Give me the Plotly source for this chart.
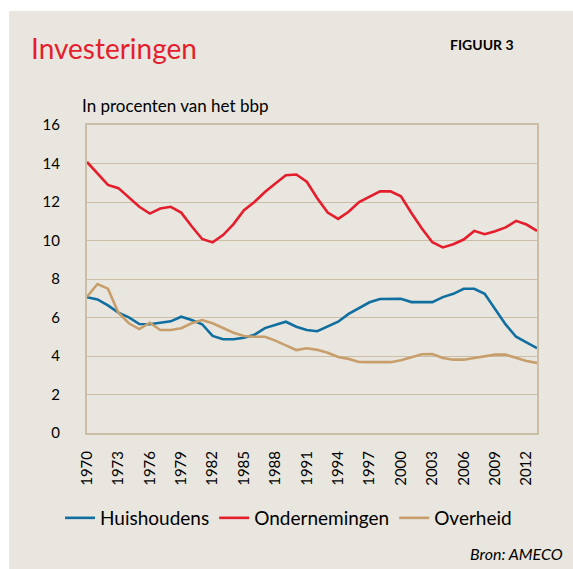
import plotly.graph_objects as go

years = [str(y) for y in range(1970, 2014)]

huishoudens = [7.05, 6.94, 6.63, 6.25, 6.01, 5.66, 5.65, 5.71, 5.80, 6.04,
               5.87, 5.65, 5.04, 4.87, 4.87, 4.95, 5.10, 5.45, 5.63, 5.78,
               5.52, 5.35, 5.29, 5.54, 5.78, 6.19, 6.51, 6.79, 6.96, 6.97,
               6.97, 6.80, 6.80, 6.80, 7.06, 7.23, 7.49, 7.49, 7.23, 6.46,
               5.64, 5.00, 4.70, 4.41]

ondernemingen = [14.08, 13.46, 12.89, 12.72, 12.23, 11.75, 11.40, 11.66, 11.75, 11.45,
                 10.74, 10.08, 9.90, 10.28, 10.85, 11.57, 12.00, 12.52, 12.96, 13.39,
                 13.43, 13.05, 12.20, 11.45, 11.12, 11.49, 12.00, 12.29, 12.55, 12.56,
                 12.30, 11.43, 10.62, 9.91, 9.64, 9.81, 10.05, 10.50, 10.33, 10.48,
                 10.68, 11.02, 10.83, 10.50]

overheid = [7.08, 7.74, 7.50, 6.25, 5.70, 5.40, 5.73, 5.35, 5.35, 5.44,
            5.70, 5.87, 5.70, 5.44, 5.21, 5.04, 5.00, 5.00, 4.80, 4.55,
            4.31, 4.40, 4.32, 4.17, 3.95, 3.85, 3.69, 3.68, 3.68, 3.68,
            3.78, 3.95, 4.09, 4.10, 3.90, 3.81, 3.81, 3.90, 3.98, 4.07,
            4.07, 3.90, 3.74, 3.64]

tick_years = [str(y) for y in range(1970, 2013, 3)]
y_ticks = [0, 2, 4, 6, 8, 10, 12, 14, 16]

BG = "rgb(232,230,222)"
GRID = "rgb(204,190,165)"
FONT = "Lato"

fig = go.Figure()
fig.add_trace(go.Scatter(x=years, y=huishoudens, mode="lines", name="Huishoudens",
                         line=dict(color="rgb(16,110,160)", width=2.6)))
fig.add_trace(go.Scatter(x=years, y=ondernemingen, mode="lines", name="Ondernemingen",
                         line=dict(color="rgb(228,30,45)", width=2.6)))
fig.add_trace(go.Scatter(x=years, y=overheid, mode="lines", name="Overheid",
                         line=dict(color="rgb(200,158,108)", width=2.6)))

# Beige panel (white strip top and left)
fig.add_shape(type="rect", xref="paper", yref="paper",
              x0=(9 - 87) / 450, x1=(600 - 87) / 450,
              y0=(433 - 600) / 308, y1=(433 - 11) / 308,
              fillcolor=BG, line=dict(width=0), layer="below")

fig.add_annotation(text="Investeringen", xref="paper", yref="paper",
                   x=(29 - 87) / 450, y=(433 - 48) / 308, xanchor="left", yanchor="middle",
                   showarrow=False, font=dict(family=FONT, size=28, color="rgb(228,30,45)"))
fig.add_annotation(text="<b>FIGUUR 3</b>", xref="paper", yref="paper",
                   x=(516 - 87) / 450, y=(433 - 45) / 308, xanchor="right", yanchor="middle",
                   showarrow=False, font=dict(family=FONT, size=14, color="black"))
fig.add_annotation(text="In procenten van het bbp", xref="paper", yref="paper",
                   x=(80 - 87) / 450, y=(433 - 106) / 308, xanchor="left", yanchor="middle",
                   showarrow=False, font=dict(family=FONT, size=17, color="black"))
fig.add_annotation(text="<i>Bron: AMECO</i>", xref="paper", yref="paper",
                   x=(565 - 87) / 450, y=(433 - 553) / 308, xanchor="right", yanchor="middle",
                   showarrow=False, font=dict(family=FONT, size=16, color="black"))

fig.update_layout(
    width=573, height=569,
    margin=dict(l=87, r=36, t=125, b=136),
    paper_bgcolor="white",
    plot_bgcolor="rgba(0,0,0,0)",
    font=dict(family=FONT, color="black"),
    showlegend=True,
    legend=dict(orientation="h", x=(60 - 87) / 450, y=(433 - 518) / 308,
                xanchor="left", yanchor="middle", bgcolor="rgba(0,0,0,0)",
                font=dict(family=FONT, size=19), itemwidth=30, tracegroupgap=0),
)
fig.update_xaxes(type="category", tickmode="array", tickvals=tick_years, ticktext=tick_years,
                 tickangle=-90, tickfont=dict(family=FONT, size=15),
                 showgrid=False, showline=True, mirror=True, linecolor=GRID, linewidth=2,
                 ticks="outside", ticklen=10, tickcolor="rgba(0,0,0,0)")
fig.update_yaxes(range=[0, 16], tickmode="array", tickvals=y_ticks,
                 tickfont=dict(family=FONT, size=15),
                 showgrid=True, gridcolor=GRID, gridwidth=1.3, zeroline=False,
                 showline=True, mirror=True, linecolor=GRID, linewidth=2,
                 ticks="outside", ticklen=22, tickcolor="rgba(0,0,0,0)")

fig.write_html("out.html", config={"displayModeBar": False},
               post_script="document.body.style.margin='0';")
